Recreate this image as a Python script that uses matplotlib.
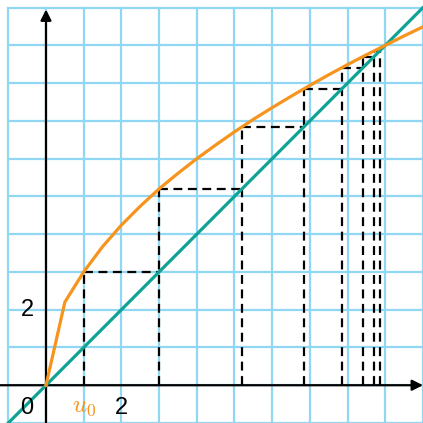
import matplotlib
matplotlib.use('agg')
import matplotlib.pyplot as plt

plt.rcParams['font.family'] = ['Liberation Sans', 'DejaVu Sans']
plt.rcParams['mathtext.fontset'] = 'cm'

# curve u_{n+1} = f(u_n), read at a few abscissas
curve_x = [0, 0.5, 1, 1.5, 2, 2.5, 3, 3.5, 4, 4.5, 5, 5.5, 6, 6.5, 7, 7.5, 8, 8.5, 9, 9.5, 10]
curve_y = [0, 2.2, 3.0, 3.67, 4.24, 4.74, 5.2, 5.61, 6.0, 6.36, 6.71, 7.04, 7.35, 7.65,
           7.94, 8.22, 8.49, 8.75, 9.0, 9.25, 9.49]

# terms of the sequence
u = [1.0, 3.0, 5.2, 6.84, 7.85, 8.4, 8.7, 8.85, 8.92]

x_ticks = [0, 2]
y_ticks = [2]

orange = '#F7941D'
teal = '#0FA396'
grid_blue = '#8FD7F3'

fig = plt.figure(figsize=(4.23, 4.23), dpi=100)
ax = fig.add_axes([0, 0, 1, 1])
ax.set_xlim(-1.22, 10.0)
ax.set_ylim(-1.0, 10.2)
ax.axis('off')

# square grid, one unit per cell
for k in range(-1, 11):
    ax.plot([k, k], [-1, 10], color=grid_blue, lw=1.6, zorder=1)
    ax.plot([-1, 10], [k, k], color=grid_blue, lw=1.6, zorder=1)

# axes with arrows
ax.annotate('', xy=(10.0, 0), xytext=(-1.22, 0),
            arrowprops=dict(arrowstyle='-|>', color='black', lw=1.6,
                            mutation_scale=16, shrinkA=0, shrinkB=0), zorder=3)
ax.annotate('', xy=(0, 9.95), xytext=(0, -1.0),
            arrowprops=dict(arrowstyle='-|>', color='black', lw=1.6,
                            mutation_scale=16, shrinkA=0, shrinkB=0), zorder=3)

# cobweb
dash = dict(color='black', lw=1.6, ls=(0, (4, 2.5)), zorder=4)
for n in range(len(u) - 1):
    ax.plot([u[n], u[n]], [0, u[n + 1]], **dash)
    if n < len(u) - 2:
        ax.plot([u[n], u[n + 1]], [u[n + 1], u[n + 1]], **dash)

ax.plot([-1.3, 10.3], [-1.3, 10.3], color=teal, lw=2.3, zorder=5)
ax.plot(curve_x, curve_y, color=orange, lw=2.3, zorder=5)

for t in x_ticks:
    ax.text(t - 0.5 if t == 0 else t, -0.6, str(t), fontsize=17, ha='center', va='center', zorder=6)
for t in y_ticks:
    ax.text(-0.5, t, str(t), fontsize=17, ha='center', va='center', zorder=6)
ax.text(u[0], -0.55, '$u_0$', color=orange, fontsize=18, ha='center', va='center', zorder=6)

fig.savefig('out.png', dpi=100)
